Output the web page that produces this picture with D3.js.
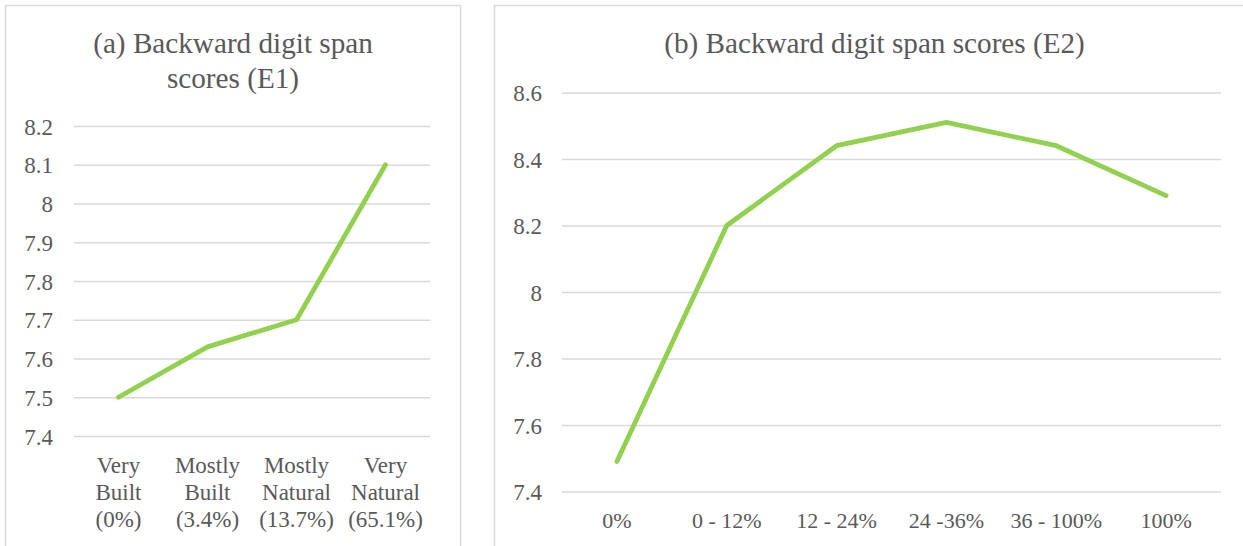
<!DOCTYPE html>
<html>
<head>
<meta charset="utf-8">
<script src="https://cdn.jsdelivr.net/npm/d3@7"></script>
<style>
  html, body { margin: 0; padding: 0; background: #ffffff; }
  svg { display: block; }
</style>
</head>
<body>
<svg id="chart" width="1243" height="546"></svg>
<script>
// ---- Data ----
const titleA = ["(a) Backward digit span", "scores (E1)"];
const categoriesA = [
  ["Very", "Built", "(0%)"],
  ["Mostly", "Built", "(3.4%)"],
  ["Mostly", "Natural", "(13.7%)"],
  ["Very", "Natural", "(65.1%)"]
];
const valuesA = [7.5, 7.63, 7.7, 8.1];
const ticksA = [7.4, 7.5, 7.6, 7.7, 7.8, 7.9, 8, 8.1, 8.2];

const titleB = ["(b) Backward digit span scores (E2)"];
const categoriesB = [["0%"], ["0 - 12%"], ["12 - 24%"], ["24 -36%"], ["36 - 100%"], ["100%"]];
const valuesB = [7.49, 8.2, 8.44, 8.51, 8.44, 8.29];
const ticksB = [7.4, 7.6, 7.8, 8, 8.2, 8.4, 8.6];

// ---- Drawing ----
const FONT = "'Liberation Serif', 'Times New Roman', Tinos, 'DejaVu Serif', serif";
const svg = d3.select("#chart");
const lineColor = "#92d050";
const gridColor = "#d9d9d9";
const textColor = "#595959";

function panel(cfg) {
  const g = svg.append("g");
  g.append("rect")
    .attr("x", cfg.box[0]).attr("y", cfg.box[1])
    .attr("width", cfg.box[2]).attr("height", cfg.box[3])
    .attr("fill", "none").attr("stroke", gridColor).attr("stroke-width", 1.5);

  const cx = cfg.box[0] + cfg.box[2] / 2;
  cfg.title.forEach((t, i) => {
    g.append("text").attr("x", cx).attr("y", cfg.titleY + i * 34.5)
      .attr("text-anchor", "middle")
      .attr("font-family", FONT).attr("font-size", 29.2).attr("fill", textColor)
      .text(t);
  });

  const x = d3.scalePoint().domain(cfg.categories.map((c, i) => i))
    .range([cfg.plot.left, cfg.plot.right]).padding(0.5);
  const y = d3.scaleLinear().domain([cfg.ticks[0], cfg.ticks[cfg.ticks.length - 1]])
    .range([cfg.plot.bottom, cfg.plot.top]);

  const axis = d3.axisLeft(y).tickValues(cfg.ticks)
    .tickSize(-(cfg.plot.right - cfg.plot.left)).tickPadding(0)
    .tickFormat(d => String(d));
  const ag = g.append("g").attr("transform", `translate(${cfg.plot.left},0)`).call(axis)
    .attr("font-family", FONT).attr("font-size", 23);
  ag.select(".domain").remove();
  ag.selectAll(".tick line").attr("stroke", gridColor).attr("stroke-width", 1.5);
  ag.selectAll(".tick text")
    .attr("x", cfg.labelX - cfg.plot.left)
    .attr("dy", "0.35em")
    .attr("fill", textColor);

  cfg.categories.forEach((lines, i) => {
    lines.forEach((t, j) => {
      g.append("text").attr("x", x(i)).attr("y", cfg.xLabelY + j * 27)
        .attr("text-anchor", "middle")
        .attr("font-family", FONT).attr("font-size", cfg.xFont).attr("fill", textColor)
        .text(t);
    });
  });

  const line = d3.line().x((d, i) => x(i)).y(d => y(d));
  g.append("path").datum(cfg.values).attr("d", line)
    .attr("fill", "none").attr("stroke", lineColor).attr("stroke-width", 4.8)
    .attr("stroke-linecap", "round").attr("stroke-linejoin", "round");
}

panel({
  box: [5.5, 5.5, 455, 600],
  title: titleA, titleY: 53,
  categories: categoriesA, values: valuesA, ticks: ticksA,
  plot: { left: 74, right: 430, top: 126, bottom: 436 },
  labelX: 53, xLabelY: 473, xFont: 23
});

panel({
  box: [494.5, 5.5, 760, 600],
  title: titleB, titleY: 53,
  categories: categoriesB, values: valuesB, ticks: ticksB,
  plot: { left: 562, right: 1221, top: 92.5, bottom: 491.5 },
  labelX: 542, xLabelY: 528, xFont: 22
});
</script>
</body>
</html>
